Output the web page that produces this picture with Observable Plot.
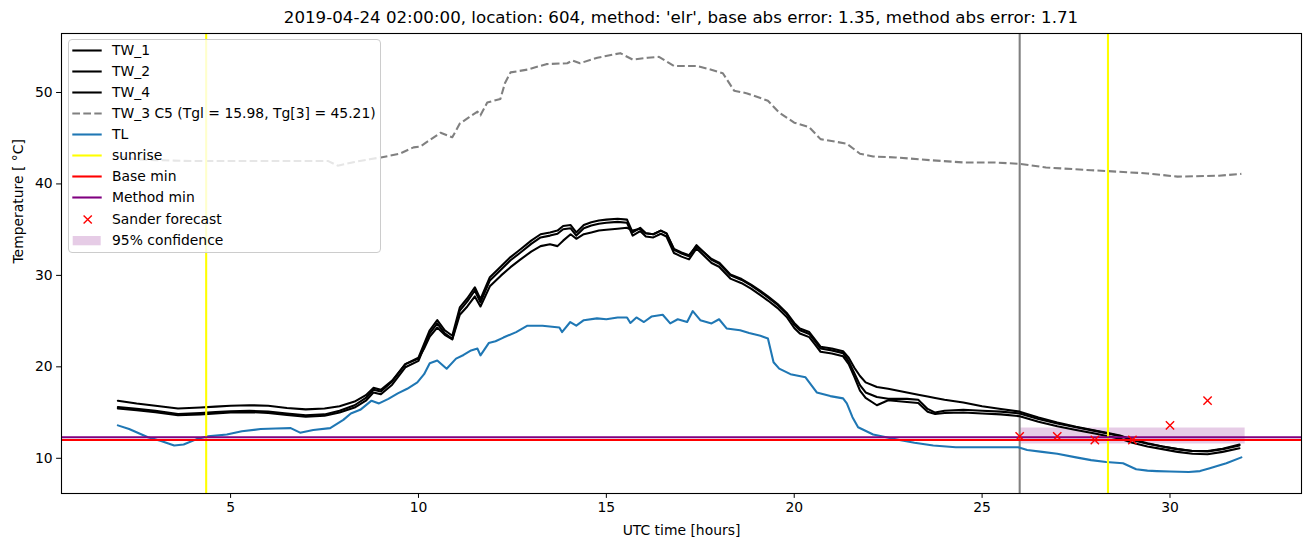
<!DOCTYPE html>
<html><head><meta charset="utf-8">
<script src="https://cdn.jsdelivr.net/npm/d3@7"></script>
<script src="https://cdn.jsdelivr.net/npm/@observablehq/plot@0.6"></script>
<style>
body{margin:0;background:#fff;font-family:"DejaVu Sans",sans-serif;}
#fig{position:relative;width:1310px;height:547px;overflow:hidden;}
#title{height:32px;box-sizing:border-box;padding:8px 9px 0 61px;text-align:center;font-size:16.67px;line-height:20px;white-space:nowrap;color:#000;}
#legend{position:absolute;left:68px;top:39px;width:313px;height:214px;box-sizing:border-box;border:1px solid #cccccc;border-radius:4px;background:rgba(255,255,255,0.8);font-size:13.9px;color:#000;}
#legend .row{position:absolute;left:0;height:21px;width:300px;}
#legend svg{position:absolute;left:3px;top:0;}
#legend span{position:absolute;left:43px;top:0;line-height:21px;white-space:nowrap;}
#plot svg{display:block;}
</style>
</head><body>
<div id="fig">
  <div id="title"></div>
  <div id="plot"></div>
  <div id="legend"></div>
</div>
<script>
const titleText = "2019-04-24 02:00:00, location: 604, method: 'elr', base abs error: 1.35, method abs error: 1.71";
const xLabel = "UTC time [hours]";
const yLabel = "Temperature [ °C]";
const xTicks = [5, 10, 15, 20, 25, 30];
const yTicks = [10, 20, 30, 40, 50];

// Black road-surface series share these hours
const tW = [2.0,2.5,3.0,3.6,4.2,4.6,5.0,5.5,6.0,6.5,7.0,7.5,7.9,8.3,8.6,8.8,9.0,9.3,9.65,10.0,
  10.15,10.3,10.5,10.7,10.9,11.1,11.3,11.5,11.65,11.9,12.2,12.45,12.7,13.0,13.25,13.5,13.7,13.85,14.05,14.2,
  14.4,14.6,14.8,15.0,15.3,15.55,15.7,15.9,16.05,16.25,16.45,16.6,16.8,17.0,17.2,17.4,17.6,17.8,18.0,18.3,
  18.6,18.85,19.1,19.3,19.55,19.8,20.0,20.15,20.4,20.55,20.7,21.0,21.3,21.45,21.6,21.75,21.9,22.2,22.5,23.0,
  23.3,23.55,23.75,24.0,24.5,25.0,25.5,26.0,26.5,27.0,27.5,28.0,28.35,28.7,29.0,29.4,29.8,30.2,30.6,31.0,
  31.4,31.85];
const tw1 = [15.6,15.4,15.2,14.85,14.95,15.05,15.15,15.2,15.1,14.9,14.7,14.8,15.2,15.8,16.6,17.5,17.3,18.4,20.3,21.0,
  22.5,24.0,25.1,24.0,23.4,26.5,27.5,28.7,27.4,29.8,31.0,32.0,32.8,33.8,34.5,34.7,34.9,35.4,35.5,34.7,
  35.5,35.8,36.0,36.1,36.2,36.1,34.7,35.2,34.6,34.5,34.9,34.6,32.8,32.4,32.1,33.3,32.5,31.7,31.3,30.0,
  29.5,28.9,28.2,27.6,26.8,25.8,24.6,24.0,23.6,22.8,22.0,21.8,21.5,20.6,19.3,18.0,17.2,16.7,16.5,16.5,
  16.4,15.4,15.0,15.2,15.3,15.2,15.1,14.9,14.3,13.8,13.4,13.0,12.7,12.4,12.0,11.6,11.3,11.0,10.8,10.75,
  11.0,11.4];
const tw2 = [15.45,15.25,15.05,14.7,14.8,14.9,15.0,15.05,14.95,14.75,14.55,14.65,15.0,15.55,16.3,17.2,17.0,18.05,19.95,20.65,
  22.15,23.65,24.75,23.65,23.05,26.15,27.15,28.35,27.05,29.45,30.65,31.65,32.45,33.45,34.15,34.35,34.55,35.05,35.15,34.35,
  35.15,35.45,35.65,35.75,35.85,35.75,34.35,34.85,34.25,34.15,34.55,34.25,32.45,32.05,31.75,32.95,32.15,31.35,30.95,29.65,
  29.15,28.55,27.85,27.25,26.45,25.45,24.25,23.65,23.25,22.45,21.65,21.45,21.15,20.3,18.9,17.4,16.6,15.8,16.35,16.15,
  16.05,15.1,14.85,14.95,15.0,14.9,14.8,14.6,14.0,13.5,13.1,12.7,12.4,12.1,11.7,11.3,11.0,10.7,10.5,10.45,
  10.7,11.1];
const tw4 = [16.3,16.0,15.75,15.45,15.55,15.65,15.75,15.8,15.75,15.5,15.35,15.45,15.7,16.2,16.9,17.7,17.5,18.5,20.3,20.9,
  22.0,23.3,24.3,23.5,23.0,25.7,26.6,27.7,26.6,28.8,30.0,30.9,31.7,32.6,33.2,33.4,33.2,33.8,34.5,34.0,
  34.5,34.7,34.9,35.0,35.1,35.2,34.9,35.1,34.6,34.5,34.9,34.6,32.9,32.5,32.2,33.2,32.5,31.8,31.4,30.1,
  29.6,29.0,28.3,27.7,26.9,25.9,24.8,24.2,23.8,23.0,22.2,22.0,21.7,21.0,19.9,19.0,18.3,17.8,17.6,17.2,
  16.95,16.75,16.6,16.4,16.1,15.7,15.4,15.1,14.45,13.9,13.45,13.05,12.75,12.45,12.05,11.65,11.3,11.0,10.8,10.8,
  11.05,11.5];

const tW3 = [2.0,2.5,3.0,3.5,4.0,5.0,6.0,7.0,7.6,7.85,8.3,8.7,9.0,9.5,9.87,10.05,10.3,10.59,10.9,11.1,
  11.35,11.57,11.65,11.83,12.18,12.3,12.45,12.9,13.4,13.96,14.1,14.3,14.76,15.37,15.7,16.1,16.4,16.8,17.4,17.7,
  18.1,18.4,18.75,19.3,19.6,20.0,20.4,20.7,21.4,21.75,22.1,22.7,23.6,24.5,25.3,26.0,26.7,27.9,28.35,29.4,
  30.2,31.3,31.9];
const tw3 = [43.0,42.7,42.6,42.55,42.5,42.5,42.5,42.5,42.5,42.0,42.4,42.7,42.9,43.3,44.0,44.1,44.8,45.6,45.1,46.6,
  47.3,47.9,47.5,48.9,49.3,51.0,52.2,52.5,53.1,53.2,53.5,53.2,53.8,54.3,53.6,53.8,53.9,52.9,52.9,52.6,
  52.1,50.2,49.9,49.1,47.8,46.7,46.2,44.9,44.4,43.3,43.0,42.9,42.6,42.35,42.35,42.2,41.8,41.5,41.4,41.15,
  40.8,40.9,41.1];

const tTL = [2.0,2.3,2.8,3.15,3.5,3.75,4.1,4.4,4.9,5.3,5.8,6.2,6.6,6.85,7.2,7.65,8.0,8.2,8.45,8.75,
  8.95,9.2,9.45,9.7,9.97,10.15,10.3,10.5,10.75,11.0,11.2,11.4,11.57,11.65,11.87,12.05,12.26,12.6,12.9,13.3,
  13.75,13.82,14.04,14.2,14.4,14.75,15.0,15.3,15.55,15.64,15.8,16.0,16.2,16.5,16.7,16.9,17.15,17.3,17.5,17.8,
  18.0,18.2,18.56,18.8,19.1,19.3,19.45,19.6,19.9,20.3,20.6,20.96,21.3,21.4,21.55,21.7,22.1,22.8,23.2,23.7,
  24.3,25.0,25.96,26.2,26.6,27.0,27.5,27.9,28.3,28.75,29.1,29.4,29.65,30.0,30.5,30.8,31.06,31.3,31.5,31.9];
const tl = [13.6,13.2,12.3,11.9,11.4,11.5,12.1,12.4,12.6,12.95,13.2,13.25,13.3,12.8,13.1,13.3,14.2,14.9,15.3,16.3,
  16.0,16.5,17.1,17.6,18.3,19.2,20.4,20.7,19.8,20.9,21.3,21.8,22.0,21.25,22.6,22.8,23.2,23.8,24.5,24.5,
  24.3,23.8,24.9,24.5,25.1,25.3,25.2,25.4,25.4,24.8,25.4,24.9,25.5,25.7,24.75,25.2,24.9,26.1,25.1,24.75,
  25.2,24.2,24.0,23.7,23.4,23.1,20.5,19.8,19.2,18.85,17.2,16.8,16.55,16.0,14.5,13.4,12.6,12.0,11.7,11.4,
  11.2,11.2,11.2,10.9,10.7,10.5,10.1,9.8,9.6,9.45,8.8,8.65,8.6,8.55,8.5,8.6,8.9,9.2,9.45,10.1];

const sunrise = [4.35, 28.35];
const forecastTime = [26.0];
const baseMin = [12.0];
const methodMin = [12.3];
const sanderHours = [26, 27, 28, 29, 30, 31];
const sanderTemp = [12.4, 12.4, 12.0, 12.0, 13.6, 16.3];
const confHours = [26, 32];
const confLow = [11.55, 11.55];
const confHigh = [13.3, 13.3];

const legendLabels = ["TW_1", "TW_2", "TW_4", "TW_3 C5 (Tgl = 15.98, Tg[3] = 45.21)", "TL", "sunrise", "Base min", "Method min", "Sander forecast", "95% confidence"];

const rows = (t, v) => t.map((h, i) => ({h, v: v[i]}));
const LW = 2.08;

document.getElementById("title").textContent = titleText;

const chart = Plot.plot({
  width: 1310, height: 515,
  marginTop: 1, marginBottom: 54, marginLeft: 61, marginRight: 9,
  x: {domain: [0.5, 33.5]},
  y: {domain: [6.15, 56.45]},
  style: {fontFamily: "DejaVu Sans", fontSize: "13.9px", color: "black", background: "white", overflow: "visible"},
  marks: [
    Plot.areaY(confHours.map((h, i) => ({h, lo: confLow[i], hi: confHigh[i]})), {x: "h", y1: "lo", y2: "hi", fill: "purple", fillOpacity: 0.2}),
    Plot.ruleX(forecastTime, {stroke: "gray", strokeWidth: LW}),
    Plot.line(rows(tW, tw1), {x: "h", y: "v", stroke: "black", strokeWidth: LW}),
    Plot.line(rows(tW, tw2), {x: "h", y: "v", stroke: "black", strokeWidth: LW}),
    Plot.line(rows(tW, tw4), {x: "h", y: "v", stroke: "black", strokeWidth: LW}),
    Plot.line(rows(tW3, tw3), {x: "h", y: "v", stroke: "gray", strokeWidth: LW, strokeDasharray: "7.7,3.3", strokeLinecap: "butt"}),
    Plot.line(rows(tTL, tl), {x: "h", y: "v", stroke: "#1f77b4", strokeWidth: LW}),
    Plot.ruleX(sunrise, {stroke: "yellow", strokeWidth: LW}),
    Plot.ruleY(baseMin, {stroke: "red", strokeWidth: LW}),
    Plot.ruleY(methodMin, {stroke: "purple", strokeWidth: LW}),
    Plot.dot(rows(sanderHours, sanderTemp), {x: "h", y: "v", symbol: "times", r: 3.85, stroke: "red", strokeWidth: 1.4}),
    Plot.axisX({ticks: xTicks, tickSize: 4.9, tickPadding: 4, label: null, tickFormat: d => String(d)}),
    Plot.axisY({ticks: yTicks, tickSize: 4.9, tickPadding: 4, label: null, tickFormat: d => String(d)}),
    Plot.text([xLabel], {frameAnchor: "bottom", dy: 41, text: d => d}),
    Plot.text([yLabel], {frameAnchor: "left", dx: -43, rotate: -90, text: d => d}),
    Plot.frame({stroke: "black", strokeWidth: 1.1})
  ]
});
document.getElementById("plot").appendChild(chart);

// Legend
const leg = document.getElementById("legend");
const ns = "http://www.w3.org/2000/svg";
const handles = [
  {type: "line", stroke: "black"},
  {type: "line", stroke: "black"},
  {type: "line", stroke: "black"},
  {type: "line", stroke: "gray", dash: "7.7,3.3"},
  {type: "line", stroke: "#1f77b4"},
  {type: "line", stroke: "yellow"},
  {type: "line", stroke: "red"},
  {type: "line", stroke: "purple"},
  {type: "x", stroke: "red"},
  {type: "patch", fill: "purple"}
];
legendLabels.forEach((lab, i) => {
  const row = document.createElement("div");
  row.className = "row";
  row.style.top = (10.7 + i * 21.04 - 10.5) + "px";
  const svg = document.createElementNS(ns, "svg");
  svg.setAttribute("width", 32); svg.setAttribute("height", 21);
  const hd = handles[i];
  if (hd.type === "line") {
    const l = document.createElementNS(ns, "line");
    l.setAttribute("x1", 0.3); l.setAttribute("x2", 29.7);
    l.setAttribute("y1", 10.5); l.setAttribute("y2", 10.5);
    l.setAttribute("stroke", hd.stroke); l.setAttribute("stroke-width", LW);
    if (hd.dash) l.setAttribute("stroke-dasharray", hd.dash);
    svg.appendChild(l);
  } else if (hd.type === "x") {
    const p = document.createElementNS(ns, "path");
    const c = 15.7, r = 4.1;
    p.setAttribute("d", `M${c-r},${10.5-r}L${c+r},${10.5+r}M${c-r},${10.5+r}L${c+r},${10.5-r}`);
    p.setAttribute("stroke", hd.stroke); p.setAttribute("stroke-width", 1.4);
    svg.appendChild(p);
  } else {
    const rc = document.createElementNS(ns, "rect");
    rc.setAttribute("x", 0.7); rc.setAttribute("y", 6); rc.setAttribute("width", 28); rc.setAttribute("height", 9.3);
    rc.setAttribute("fill", hd.fill); rc.setAttribute("fill-opacity", 0.2);
    svg.appendChild(rc);
  }
  row.appendChild(svg);
  const sp = document.createElement("span");
  sp.textContent = lab;
  row.appendChild(sp);
  leg.appendChild(row);
});
</script>
</body></html>
